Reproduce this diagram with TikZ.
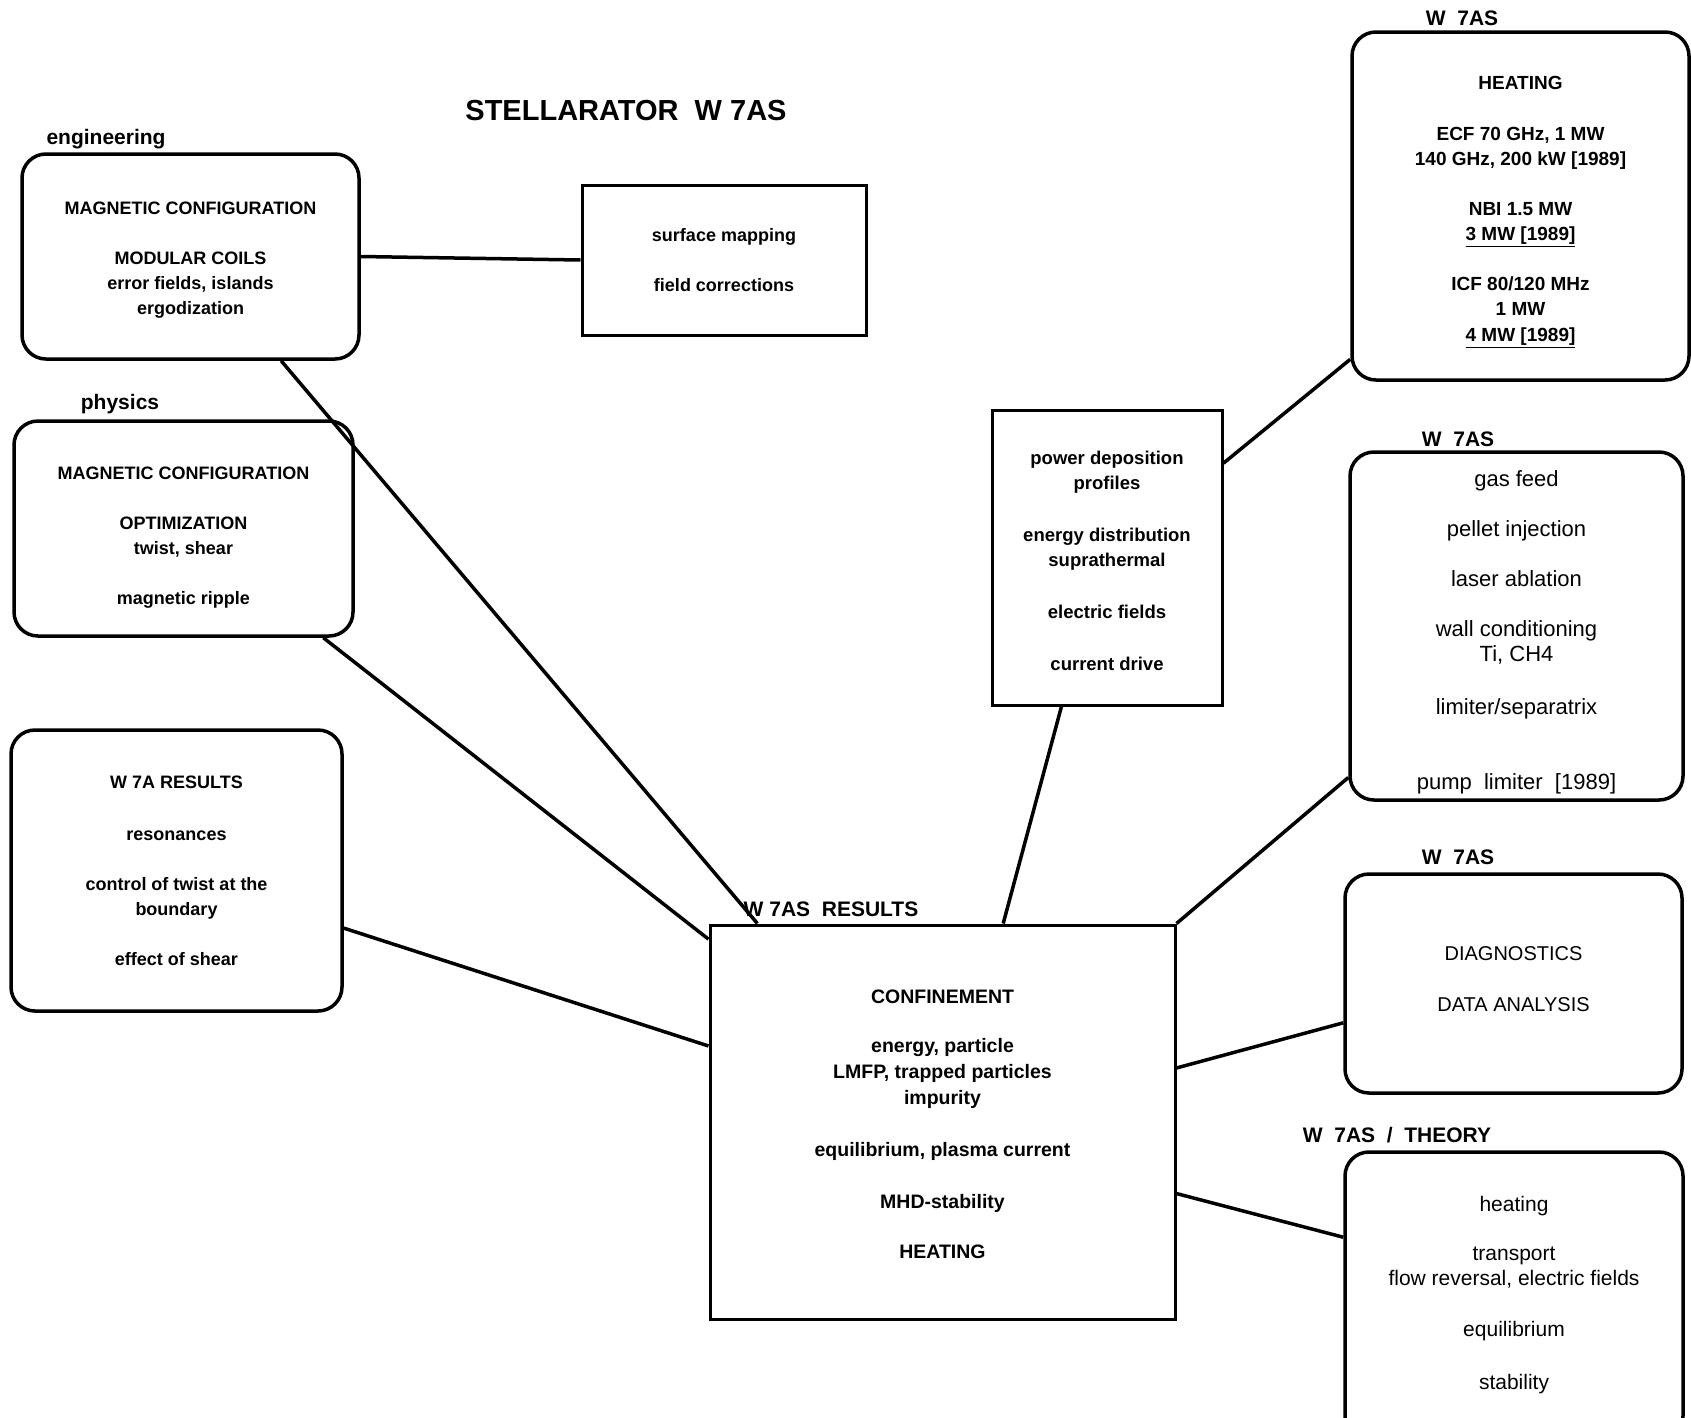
\documentclass[tikz,border=0pt]{standalone}
\usepackage{fontspec}
\setmainfont{Liberation Sans}

\begin{document}
\begin{tikzpicture}[x=1pt, y=-1pt,
  box/.style={draw, line width=3.5pt, rounded corners=24pt, inner sep=0pt},
  sbox/.style={draw, line width=3pt, inner sep=0pt},
  link/.style={line width=3.5pt},
  bf/.style={align=center, font=\bfseries\fontsize{18}{25}\selectfont},
  rm/.style={align=center, font=\fontsize{20}{25}\selectfont},
  tag/.style={font=\bfseries\fontsize{21}{25}\selectfont}]

  \path[use as bounding box, fill=white] (0,0) rectangle (1691,1417);

  % Title and group labels
  \node[font=\bfseries\fontsize{29}{32}\selectfont] (title) at (626,111) {STELLARATOR\ \ W 7AS};
  \node[tag, anchor=west] (engtag) at (43,139) {engineering};
  \node[tag] (phystag) at (120,404) {physics};
  \node[tag] (restag) at (831,909) {W 7AS\ \ RESULTS};
  \node[tag] (heattag) at (1462,18) {W\ \ 7AS};
  \node[tag] (fueltag) at (1458,439) {W\ \ 7AS};
  \node[tag] (diagtag) at (1458,857) {W\ \ 7AS};
  \node[tag] (theotag) at (1397,1135) {W\ \ 7AS\ \ /\ \ THEORY};

  % Boxes
  \node[box, minimum width=337pt, minimum height=205pt] (eng) at (190.5,256.5) {};
  \node[box, minimum width=339pt, minimum height=215pt] (phys) at (183.5,528.5) {};
  \node[box, minimum width=331pt, minimum height=281pt] (wsa) at (176.5,870.5) {};
  \node[sbox, minimum width=284pt, minimum height=150pt] (surf) at (724,260) {};
  \node[sbox, minimum width=230pt, minimum height=295pt] (power) at (1107,557.5) {};
  \node[sbox, minimum width=465pt, minimum height=394pt] (res) at (942.5,1122) {};
  \node[box, minimum width=337pt, minimum height=348pt] (heat) at (1520.5,206) {};
  \node[box, minimum width=333pt, minimum height=348pt] (fuel) at (1516.5,626) {};
  \node[box, minimum width=337pt, minimum height=219pt] (diag) at (1513.5,983.5) {};
  \node[box, minimum width=338pt, minimum height=288pt] (theo) at (1514,1296) {};

  % Box texts
  \node[bf] (engtxt) at (190.5,260.5)
    {MAGNETIC CONFIGURATION\\[25pt] MODULAR COILS\\ error fields, islands\\ ergodization};
  \node[bf] (phystxt) at (183.5,537.5)
    {MAGNETIC CONFIGURATION\\[25pt] OPTIMIZATION\\ twist, shear\\[25pt] magnetic ripple};
  \node[bf] (wsatxt) at (176.5,870.5)
    {W 7A RESULTS\\[27pt] resonances\\[25pt] control of twist at the\\ boundary\\[25pt] effect of shear};
  \node[bf] (surftxt) at (724,260) {surface mapping\\[25pt] field corrections};
  \node[bf, font=\bfseries\fontsize{18.5}{25}\selectfont] (powertxt) at (1107,560.5)
    {power deposition\\ profiles\\[27pt] energy distribution\\ suprathermal\\[27pt]
     electric fields\\[27pt] current drive};
  \node[bf, font=\bfseries\fontsize{19.5}{26}\selectfont] (restxt) at (942.5,1124)
    {CONFINEMENT\\[23pt] energy, particle\\ LMFP, trapped particles\\ impurity\\[26pt]
     equilibrium, plasma current\\[26pt] MHD-stability\\[24pt] HEATING};
  \node[bf, font=\bfseries\fontsize{19}{25.5}\selectfont] (heattxt) at (1520.5,212)
    {HEATING\\[25pt] ECF 70 GHz, 1 MW\\ 140 GHz, 200 kW [1989]\\[24pt]
     NBI 1.5 MW\\ \underline{3 MW [1989]}\\[24pt] ICF 80/120 MHz\\ 1 MW\\ \underline{4 MW [1989]}};
  \node[rm, font=\fontsize{22}{25}\selectfont] (fueltxt) at (1516.5,632)
    {gas feed\\[25pt] pellet injection\\[25pt] laser ablation\\[25pt] wall conditioning\\ Ti, CH4\\[28pt]
     limiter/separatrix\\[50pt] pump\ \ limiter\ \ [1989]};
  \node[rm] (diagtxt) at (1513.5,979.5) {DIAGNOSTICS\\[26pt] DATA ANALYSIS};
  \node[rm, font=\fontsize{21}{25}\selectfont] (theotxt) at (1514,1295)
    {heating\\[24pt] transport\\ flow reversal, electric fields\\[26pt] equilibrium\\[28pt] stability};

  % Links
  \draw[link] (eng.east) -- (surf.west);
  \draw[link] (eng.-49.5) -- (res.133.4);
  \draw[link] (phys.-38) -- (res.142.7);
  \draw[link] (wsa.-19.8) -- (res.162);
  \draw[link] (power.-107) -- (res.73.3);
  \draw[link] (power.39.7) -- (heat.-138.5);
  \draw[link] (res.north east) -- (fuel.-138.4);
  \draw[link] (res.13.5) -- (diag.-167.1);
  \draw[link] (res.-17.1) -- (theo.161.1);
\end{tikzpicture}
\end{document}
